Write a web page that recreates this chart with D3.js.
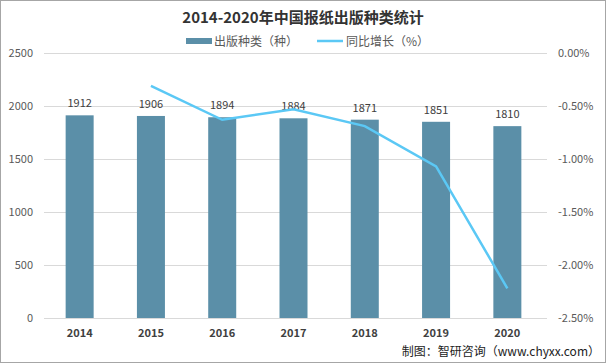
<!DOCTYPE html>
<html><head><meta charset="utf-8">
<script src="https://cdn.jsdelivr.net/npm/d3@7"></script>
<style>body{margin:0;background:#fff}svg{display:block;font-family:"Microsoft YaHei","Noto Sans CJK SC",sans-serif}</style>
</head><body>
<svg id="c" width="606" height="364"></svg>
<script>
const years = ["2014","2015","2016","2017","2018","2019","2020"];
const counts = [1912,1906,1894,1884,1871,1851,1810];
const growth = [null,-0.31,-0.63,-0.53,-0.69,-1.07,-2.22];
const leftTicks = [0,500,1000,1500,2000,2500];
const rightTicks = [0,-0.5,-1,-1.5,-2,-2.5];

const svg = d3.select("#c");
svg.append("rect").attr("x",0.5).attr("y",0.5).attr("width",605).attr("height",362)
  .attr("fill","#fff").attr("stroke","#a6a6a6");

const pTop=53, pBottom=318, pLeft=44, pRight=543;
const xb = d3.scaleBand().domain(years).range([pLeft,pRight]);
const y = d3.scaleLinear().domain([0,2500]).range([pBottom,pTop]);
const y2 = d3.scaleLinear().domain([-2.5,0]).range([pBottom,pTop]);

// gridlines
svg.append("g").selectAll("line").data(leftTicks).join("line")
  .attr("x1",pLeft).attr("x2",547).attr("y1",d=>y(d)+0.5).attr("y2",d=>y(d)+0.5)
  .attr("stroke","#d9d9d9");

// left axis labels
svg.append("g").selectAll("text").data(leftTicks).join("text")
  .attr("x",33).attr("y",d=>y(d)+4).attr("text-anchor","end")
  .attr("font-size",11).attr("fill","#595959").text(d=>d);
// right axis labels
svg.append("g").selectAll("text").data(rightTicks).join("text")
  .attr("x",558).attr("y",d=>y2(d)+4).attr("text-anchor","start")
  .attr("font-size",11).attr("fill","#595959").text(d=>d.toFixed(2)+"%");

// bars
const bw = 28;
svg.append("g").selectAll("rect").data(years).join("rect")
  .attr("x",(d)=>xb(d)+xb.bandwidth()/2-bw/2).attr("width",bw)
  .attr("y",(d,i)=>y(counts[i])).attr("height",(d,i)=>pBottom-y(counts[i]))
  .attr("fill","#5b8fa8");
// value labels
svg.append("g").selectAll("text").data(years).join("text")
  .attr("x",d=>xb(d)+xb.bandwidth()/2).attr("y",(d,i)=>y(counts[i])-8)
  .attr("text-anchor","middle").attr("font-size",11).attr("fill","#404040")
  .text((d,i)=>counts[i]);

// line
const pts = years.map((d,i)=>[xb(d)+xb.bandwidth()/2, growth[i]]).filter(p=>p[1]!==null);
svg.append("path").attr("d",d3.line().x(p=>p[0]).y(p=>y2(p[1]))(pts))
  .attr("fill","none").attr("stroke","#5bc8f5").attr("stroke-width",2.5);

// x labels
svg.append("g").selectAll("text").data(years).join("text")
  .attr("x",d=>xb(d)+xb.bandwidth()/2).attr("y",337).attr("text-anchor","middle")
  .attr("font-size",11).attr("font-weight","bold").attr("fill","#404040").text(d=>d);

// title
svg.append("text").attr("x",303).attr("y",23).attr("text-anchor","middle")
  .attr("font-size",15).attr("font-weight","bold").attr("fill","#333").text("2014-2020年中国报纸出版种类统计");

// legend
svg.append("rect").attr("x",186).attr("y",38).attr("width",26).attr("height",6).attr("fill","#5b8fa8");
svg.append("text").attr("x",214).attr("y",46).attr("font-size",12).attr("fill","#595959").text("出版种类（种）");
svg.append("line").attr("x1",317).attr("x2",343).attr("y1",41).attr("y2",41).attr("stroke","#5bc8f5").attr("stroke-width",2.5);
svg.append("text").attr("x",346).attr("y",46).attr("font-size",12).attr("fill","#595959").text("同比增长（%）");

// footer
svg.append("text").attr("x",600).attr("y",356).attr("text-anchor","end")
  .attr("font-size",12).attr("fill","#222").text("制图：智研咨询（www.chyxx.com）");
</script>
</body></html>
